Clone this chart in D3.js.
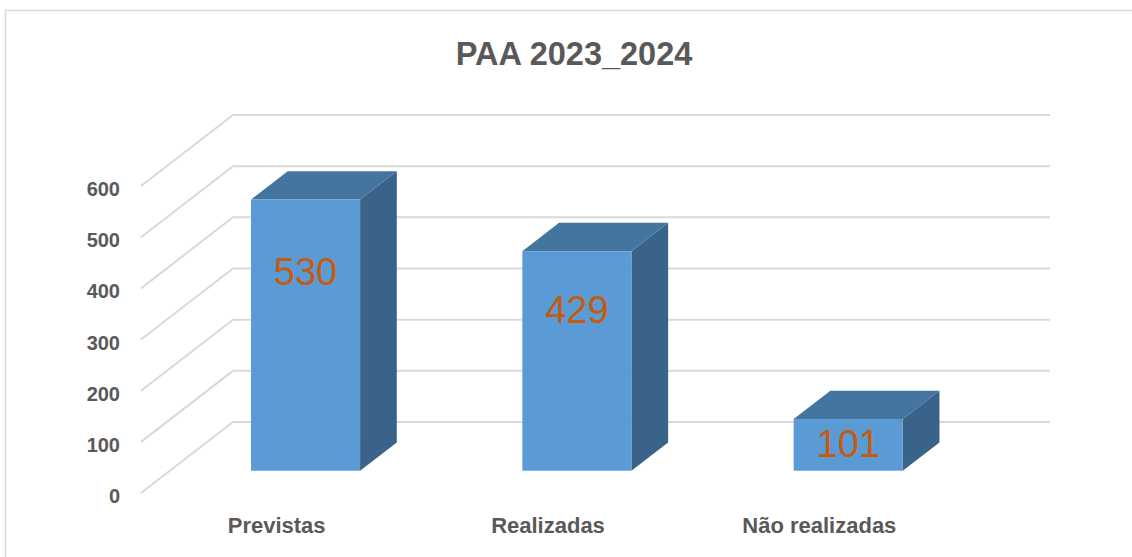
<!DOCTYPE html>
<html><head><meta charset="utf-8">
<script src="https://cdn.jsdelivr.net/npm/d3@7"></script>
<style>html,body{margin:0;padding:0;background:#fff;}svg{display:block;}</style>
</head><body>
<svg id="c" width="1132" height="557"></svg>
<script>
const categories = ["Previstas", "Realizadas", "Não realizadas"];
const values = [530, 429, 101];
const tickValues = [0, 100, 200, 300, 400, 500, 600];
const title = "PAA 2023_2024";

const svg = d3.select("#c");
const font = "'Liberation Sans', Arial, sans-serif";
const gray = "#595959";

// chart border
svg.append("rect").attr("x", 5.5).attr("y", 10.5).attr("width", 1200).attr("height", 700)
  .attr("fill", "#fff").attr("stroke", "#D9D9D9").attr("stroke-width", 1.5);

// projection: depth offset for full floor depth
const DX = 92, DY = 71;
const y = d3.scaleLinear().domain([0, 600]).range([493, 186]);
const x = d3.scaleBand().domain(categories).range([141, 955]).paddingInner(0).paddingOuter(0);
const barFrac = 0.402;
const t0 = 0.314, t1 = 0.713;

// gridlines (side wall diagonal + back wall horizontal)
const g = svg.append("g");
tickValues.forEach(v => {
  const yf = y(v);
  g.append("path")
    .attr("d", `M${x.range()[0]},${yf} L${x.range()[0] + DX},${yf - DY} L${x.range()[1] + DX + 3},${yf - DY}`)
    .attr("fill", "none").attr("stroke", "#D9D9D9").attr("stroke-width", 2);
});

// tick labels
svg.append("g").selectAll("text").data(tickValues).join("text")
  .attr("x", 120).attr("y", d => y(d) + 3)
  .attr("text-anchor", "end").attr("dominant-baseline", "central")
  .attr("font-family", font).attr("font-weight", "bold").attr("font-size", 20)
  .attr("fill", gray).text(d => d);

// bars
const bars = svg.append("g");
const bw = x.bandwidth() * barFrac;
categories.forEach((c, i) => {
  const v = values[i];
  const cx = x(c) + x.bandwidth() / 2;
  const xl = cx - bw / 2 + t0 * DX, xr = xl + bw;
  const yt = y(v) - t0 * DY, yb = y(0) - t0 * DY;
  const ddx = (t1 - t0) * DX, ddy = (t1 - t0) * DY;
  bars.append("path")
    .attr("d", `M${xr},${yt} L${xr + ddx},${yt - ddy} L${xr + ddx},${yb - ddy} L${xr},${yb} Z`)
    .attr("fill", "#396389");
  bars.append("path")
    .attr("d", `M${xl},${yt} L${xl + ddx},${yt - ddy} L${xr + ddx},${yt - ddy} L${xr},${yt} Z`)
    .attr("fill", "#44759F");
  bars.append("rect").attr("x", xl).attr("y", yt).attr("width", bw).attr("height", yb - yt)
    .attr("fill", "#5B9BD5");
  const h = yb - yt;
  const capCenter = yt + Math.max(0.265 * h, 24);
  bars.append("text")
    .attr("x", xl + bw / 2).attr("y", capCenter + 13.5)
    .attr("text-anchor", "middle")
    .attr("font-family", font).attr("font-size", 38)
    .attr("fill", "#C55A11").text(v);
});

// category labels
svg.append("g").selectAll("text").data(categories).join("text")
  .attr("x", d => x(d) + x.bandwidth() / 2).attr("y", 533)
  .attr("text-anchor", "middle")
  .attr("font-family", font).attr("font-weight", "bold").attr("font-size", 22)
  .attr("fill", gray).text(d => d);

// title
svg.append("text").attr("x", 574).attr("y", 65).attr("text-anchor", "middle")
  .attr("font-family", font).attr("font-weight", "bold").attr("font-size", 32.5)
  .attr("fill", gray).text(title);
</script>
</body></html>
